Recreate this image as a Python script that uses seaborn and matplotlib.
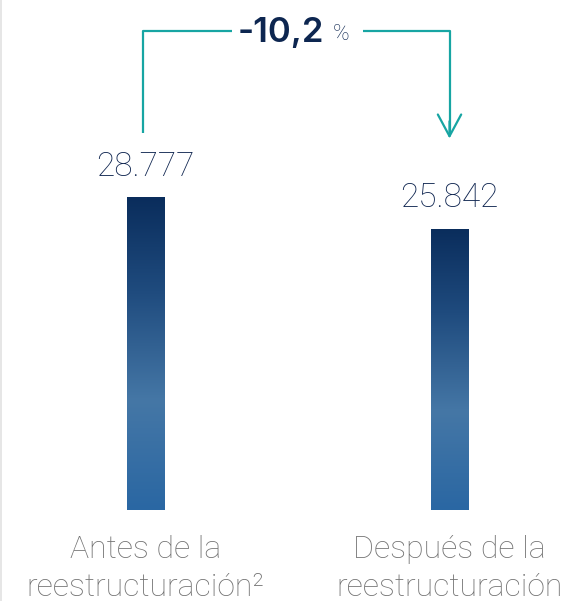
import numpy as np
import pandas as pd
import matplotlib.pyplot as plt
import seaborn as sns
from matplotlib.colors import LinearSegmentedColormap

categories = ["Antes de la\nreestructuración²", "Después de la\nreestructuración"]
values = [28777, 25842]
value_labels = ["28.777", "25.842"]
change_label = "-10,2"

df = pd.DataFrame({"cat": categories, "val": values})

sns.set_theme(style="white")
plt.rcParams["font.family"] = ["Roboto", "DejaVu Sans"]

fig = plt.figure(figsize=(5.73, 6.01), dpi=100)
ax = fig.add_axes([0, 0.1514, 1, 0.8486])

sns.barplot(data=df, x="cat", y="val", ax=ax, width=0.122, color="#2b6ba6")

# gradient fill clipped to each bar
cmap = LinearSegmentedColormap.from_list(
    "grad", [(0, "#2a67a3"), (0.35, "#4577a6"), (0.7, "#1f4b7e"), (1, "#0a2d5c")])
grad = np.linspace(0, 1, 256).reshape(-1, 1)
for p in ax.patches:
    x0, y0 = p.get_x(), p.get_y()
    w, h = p.get_width(), p.get_height()
    im = ax.imshow(grad, cmap=cmap, aspect="auto", origin="lower",
                   extent=[x0, x0 + w, y0, y0 + h], zorder=3)
    im.set_clip_path(p)

ax.set_xlim(-0.4786, 1.4062)
ax.set_ylim(0, 46890)
ax.axis("off")

# faint left border
fig.add_artist(plt.Line2D([0.002, 0.002], [0, 1], transform=fig.transFigure,
                          color="#e2e2e2", lw=1.2))

# value labels
for i, (v, lab) in enumerate(zip(values, value_labels)):
    ax.text(i, v + 2800, lab, ha="center", va="center", fontsize=24,
            color="#0f2550", fontweight="light")

# category labels
for i, c in enumerate(categories):
    ax.text(i, -2300, c, ha="center", va="top", fontsize=23,
            color="#727272", fontweight="light", linespacing=1.38)

# bracket arrow
teal = "#17a5a3"
top_y = 44040
ax.plot([-0.007, -0.007, 0.283], [values[0] + 5900, top_y, top_y],
        color=teal, lw=1.6, solid_capstyle="butt")
ax.plot([0.714, 1.0, 1.0], [top_y, top_y, 34600],
        color=teal, lw=1.6, solid_capstyle="butt")
ax.annotate("", xy=(1.0, 33900), xytext=(1.0, 36000),
            arrowprops=dict(arrowstyle="->,head_length=1.3,head_width=0.7",
                            color=teal, lw=1.6))
ax.text(0.588, top_y - 200, change_label, ha="right", va="center", fontsize=25,
        color="#0d2650", fontweight="semibold", family=["Inter", "DejaVu Sans"])
ax.text(0.616, top_y - 300, "%", ha="left", va="center", fontsize=16,
        color="#0d2650", fontweight="light")

fig.savefig("out.png", dpi=100)
